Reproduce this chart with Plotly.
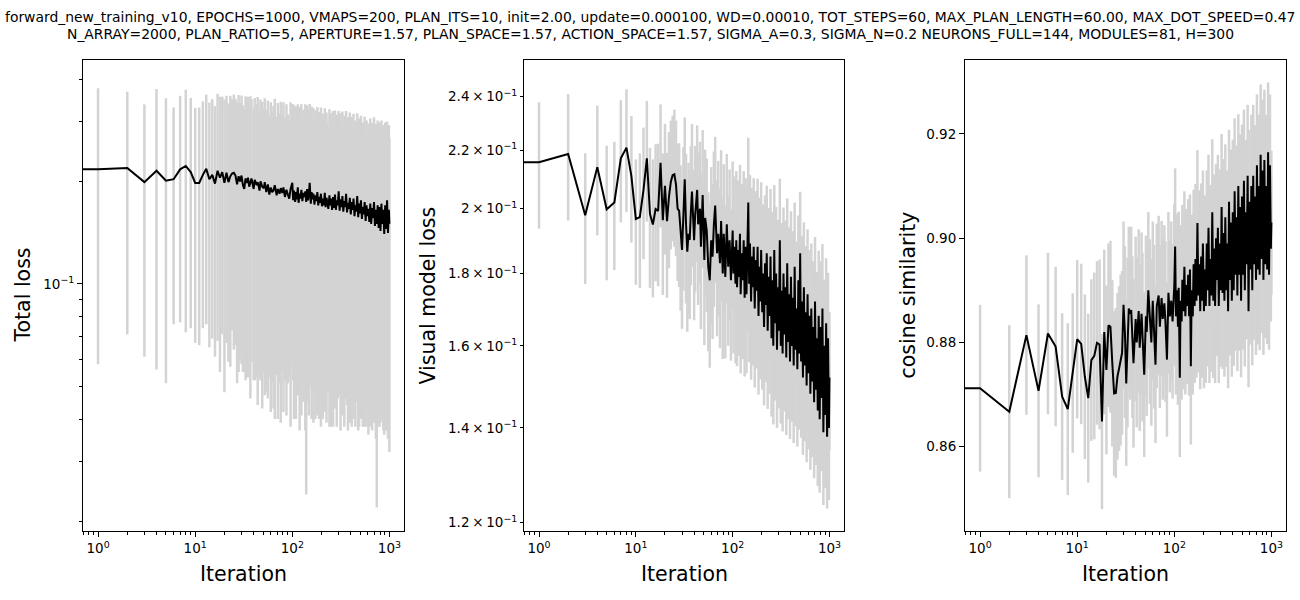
import plotly.graph_objects as go

# iteration index of each logged point (the run has 1000 epochs)
iterations = [
    0, 1, 2, 3, 4, 5, 6, 7, 8, 9,
    10, 11, 12, 13, 14, 15, 16, 17, 18, 19,
    20, 21, 22, 23, 24, 25, 26, 27, 28, 29,
    30, 31, 32, 33, 34, 35, 36, 37, 38, 40,
    41, 43, 44, 46, 47, 49, 51, 52, 54, 56,
    58, 60, 62, 64, 66, 69, 71, 74, 76, 79,
    81, 84, 87, 90, 93, 96, 100, 102, 104, 107,
    109, 111, 114, 116, 119, 121, 124, 127, 130, 133,
    136, 139, 142, 145, 148, 151, 155, 158, 162, 165,
    169, 173, 177, 181, 185, 189, 193, 197, 202, 206,
    211, 216, 220, 225, 230, 235, 241, 246, 252, 257,
    263, 269, 275, 281, 287, 294, 300, 307, 314, 321,
    328, 335, 343, 350, 358, 366, 374, 383, 391, 400,
    409, 418, 427, 437, 446, 456, 466, 477, 487, 498,
    509, 521, 532, 544, 556, 569, 581, 594, 608, 621,
    635, 649, 664, 678, 694, 709, 725, 741, 757, 774,
    792, 809, 827, 846, 865, 884, 904, 924, 945, 966,
    987, 999,
]

total_mean = [
    0.217, 0.217, 0.219, 0.199, 0.215, 0.201, 0.203, 0.217, 0.222, 0.213,
    0.198, 0.198, 0.209, 0.218, 0.203, 0.209, 0.197, 0.215, 0.205, 0.213,
    0.198, 0.212, 0.199, 0.207, 0.211, 0.212, 0.208, 0.196, 0.207, 0.200,
    0.208, 0.195, 0.190, 0.204, 0.198, 0.205, 0.193, 0.201, 0.204, 0.190,
    0.202, 0.195, 0.199, 0.188, 0.200, 0.193, 0.191, 0.199, 0.186, 0.196,
    0.183, 0.192, 0.186, 0.188, 0.195, 0.182, 0.190, 0.184, 0.191, 0.185,
    0.192, 0.180, 0.189, 0.183, 0.178, 0.190, 0.198, 0.176, 0.188, 0.174,
    0.186, 0.177, 0.192, 0.173, 0.184, 0.178, 0.189, 0.175, 0.185, 0.180,
    0.187, 0.174, 0.190, 0.176, 0.183, 0.198, 0.172, 0.186, 0.177, 0.184,
    0.171, 0.182, 0.175, 0.186, 0.170, 0.180, 0.173, 0.184, 0.169, 0.178,
    0.170, 0.185, 0.168, 0.179, 0.173, 0.166, 0.182, 0.170, 0.178, 0.165,
    0.180, 0.167, 0.183, 0.165, 0.176, 0.170, 0.187, 0.164, 0.177, 0.168,
    0.181, 0.163, 0.175, 0.168, 0.184, 0.162, 0.173, 0.166, 0.179, 0.160,
    0.174, 0.165, 0.178, 0.158, 0.170, 0.163, 0.181, 0.157, 0.172, 0.161,
    0.176, 0.155, 0.168, 0.160, 0.174, 0.153, 0.170, 0.158, 0.166, 0.152,
    0.172, 0.150, 0.167, 0.156, 0.174, 0.148, 0.165, 0.150, 0.170, 0.146,
    0.168, 0.143, 0.172, 0.150, 0.165, 0.140, 0.170, 0.145, 0.176, 0.141,
    0.165, 0.150,
]
total_std = [
    0.159, 0.159, 0.148, 0.138, 0.159, 0.150, 0.127, 0.140, 0.150, 0.139,
    0.131, 0.132, 0.135, 0.142, 0.138, 0.140, 0.136, 0.147, 0.150, 0.142,
    0.150, 0.145, 0.140, 0.150, 0.138, 0.148, 0.142, 0.145, 0.152, 0.140,
    0.150, 0.140, 0.135, 0.152, 0.145, 0.150, 0.140, 0.155, 0.145, 0.138,
    0.150, 0.142, 0.155, 0.135, 0.148, 0.150, 0.136, 0.152, 0.138, 0.150,
    0.130, 0.150, 0.135, 0.145, 0.155, 0.128, 0.150, 0.133, 0.152, 0.130,
    0.150, 0.128, 0.148, 0.132, 0.125, 0.152, 0.140, 0.124, 0.148, 0.122,
    0.146, 0.125, 0.145, 0.123, 0.147, 0.128, 0.148, 0.125, 0.140, 0.132,
    0.150, 0.150, 0.145, 0.126, 0.142, 0.140, 0.122, 0.146, 0.128, 0.145,
    0.122, 0.142, 0.126, 0.145, 0.120, 0.140, 0.125, 0.146, 0.120, 0.138,
    0.122, 0.143, 0.120, 0.140, 0.125, 0.118, 0.144, 0.124, 0.140, 0.118,
    0.142, 0.120, 0.140, 0.118, 0.138, 0.124, 0.135, 0.117, 0.140, 0.122,
    0.140, 0.116, 0.137, 0.122, 0.138, 0.118, 0.136, 0.120, 0.140, 0.115,
    0.136, 0.120, 0.138, 0.114, 0.132, 0.118, 0.136, 0.120, 0.134, 0.116,
    0.136, 0.112, 0.130, 0.116, 0.136, 0.110, 0.132, 0.114, 0.130, 0.110,
    0.134, 0.110, 0.130, 0.114, 0.135, 0.108, 0.130, 0.128, 0.132, 0.106,
    0.130, 0.104, 0.130, 0.110, 0.128, 0.104, 0.128, 0.108, 0.124, 0.106,
    0.128, 0.118,
]

visual_mean = [
    0.2157, 0.2157, 0.2186, 0.1979, 0.2140, 0.1998, 0.2020, 0.2171, 0.2209, 0.2109,
    0.1967, 0.1973, 0.2062, 0.2171, 0.1983, 0.1949, 0.1999, 0.1993, 0.2155, 0.1963,
    0.2076, 0.1960, 0.2040, 0.2090, 0.2112, 0.2115, 0.2080, 0.2000, 0.1993, 0.1920,
    0.1870, 0.1980, 0.2098, 0.1950, 0.1865, 0.1920, 0.1901, 0.1990, 0.2057, 0.1900,
    0.1980, 0.2062, 0.1950, 0.2000, 0.1880, 0.2045, 0.1840, 0.1970, 0.1930, 0.1820,
    0.1780, 0.1900, 0.1850, 0.1950, 0.2010, 0.1860, 0.1920, 0.1830, 0.1960, 0.1800,
    0.1920, 0.1790, 0.1950, 0.1820, 0.1900, 0.1780, 0.1930, 0.1800, 0.1880, 0.1770,
    0.1900, 0.1760, 0.1870, 0.1790, 0.1920, 0.1740, 0.1860, 0.1780, 0.1900, 0.1730,
    0.1880, 0.1740, 0.1860, 0.2020, 0.1770, 0.1890, 0.1720, 0.1850, 0.1760, 0.1880,
    0.1700, 0.1840, 0.1750, 0.1880, 0.1680, 0.1820, 0.1720, 0.1870, 0.1690, 0.1800,
    0.1650, 0.1830, 0.1710, 0.1860, 0.1640, 0.1790, 0.1680, 0.1850, 0.1620, 0.1780,
    0.1600, 0.1870, 0.1660, 0.1800, 0.1590, 0.1760, 0.1640, 0.1900, 0.1600, 0.1750,
    0.1580, 0.1800, 0.1630, 0.1760, 0.1570, 0.1830, 0.1610, 0.1740, 0.1560, 0.1790,
    0.1600, 0.1730, 0.1550, 0.1820, 0.1590, 0.1700, 0.1540, 0.1780, 0.1580, 0.1860,
    0.1560, 0.1720, 0.1520, 0.1760, 0.1550, 0.1690, 0.1500, 0.1740, 0.1530, 0.1680,
    0.1480, 0.1700, 0.1510, 0.1650, 0.1460, 0.1720, 0.1490, 0.1620, 0.1440, 0.1680,
    0.1420, 0.1650, 0.1470, 0.1700, 0.1390, 0.1600, 0.1430, 0.1660, 0.1380, 0.1620,
    0.1400, 0.1520,
]
visual_std = [
    0.0221, 0.0221, 0.0224, 0.0210, 0.0225, 0.0218, 0.0210, 0.0215, 0.0220, 0.0216,
    0.0200, 0.0215, 0.0220, 0.0212, 0.0225, 0.0218, 0.0222, 0.0230, 0.0215, 0.0225,
    0.0220, 0.0230, 0.0225, 0.0218, 0.0215, 0.0235, 0.0228, 0.0222, 0.0232, 0.0226,
    0.0225, 0.0230, 0.0222, 0.0236, 0.0228, 0.0235, 0.0230, 0.0224, 0.0238, 0.0232,
    0.0235, 0.0228, 0.0240, 0.0230, 0.0236, 0.0228, 0.0238, 0.0232, 0.0240, 0.0234,
    0.0236, 0.0240, 0.0232, 0.0245, 0.0238, 0.0235, 0.0242, 0.0236, 0.0240, 0.0234,
    0.0230, 0.0222, 0.0236, 0.0220, 0.0232, 0.0218, 0.0230, 0.0220, 0.0228, 0.0215,
    0.0226, 0.0212, 0.0224, 0.0215, 0.0228, 0.0210, 0.0222, 0.0214, 0.0226, 0.0208,
    0.0222, 0.0210, 0.0220, 0.0225, 0.0212, 0.0222, 0.0206, 0.0220, 0.0210, 0.0222,
    0.0205, 0.0218, 0.0208, 0.0220, 0.0202, 0.0216, 0.0205, 0.0218, 0.0200, 0.0214,
    0.0198, 0.0214, 0.0202, 0.0216, 0.0196, 0.0212, 0.0200, 0.0215, 0.0194, 0.0210,
    0.0192, 0.0208, 0.0196, 0.0206, 0.0190, 0.0204, 0.0195, 0.0200, 0.0190, 0.0204,
    0.0188, 0.0204, 0.0192, 0.0202, 0.0186, 0.0204, 0.0190, 0.0200, 0.0185, 0.0202,
    0.0186, 0.0198, 0.0184, 0.0200, 0.0186, 0.0196, 0.0182, 0.0198, 0.0184, 0.0196,
    0.0182, 0.0194, 0.0180, 0.0196, 0.0180, 0.0192, 0.0176, 0.0194, 0.0178, 0.0190,
    0.0172, 0.0190, 0.0175, 0.0186, 0.0170, 0.0190, 0.0172, 0.0184, 0.0166, 0.0188,
    0.0160, 0.0186, 0.0165, 0.0188, 0.0155, 0.0182, 0.0160, 0.0185, 0.0152, 0.0182,
    0.0155, 0.0170,
]

cos_mean = [
    0.8712, 0.8712, 0.8667, 0.8814, 0.8707, 0.8817, 0.8792, 0.8696, 0.8672, 0.8741,
    0.8806, 0.8797, 0.8734, 0.8693, 0.8766, 0.8774, 0.8799, 0.8796, 0.8648, 0.8820,
    0.8747, 0.8833, 0.8830, 0.8760, 0.8702, 0.8703, 0.8735, 0.8750, 0.8766, 0.8780,
    0.8872, 0.8820, 0.8721, 0.8800, 0.8865, 0.8855, 0.8862, 0.8810, 0.8760, 0.8845,
    0.8800, 0.8860, 0.8790, 0.8855, 0.8810, 0.8738, 0.8850, 0.8820, 0.8900, 0.8840,
    0.8800, 0.8880, 0.8830, 0.8757, 0.8870, 0.8890, 0.8830, 0.8885, 0.8845, 0.8875,
    0.8840, 0.8767, 0.8895, 0.8850, 0.8880, 0.8840, 0.8910, 0.8984, 0.8850, 0.8900,
    0.8830, 0.8905, 0.8732, 0.8880, 0.8840, 0.8920, 0.8860, 0.8945, 0.8850, 0.8910,
    0.8870, 0.8930, 0.8850, 0.8940, 0.8754, 0.8900, 0.8850, 0.8950, 0.8870, 0.8960,
    0.8880, 0.9029, 0.8890, 0.8950, 0.8860, 0.8965, 0.8880, 0.8990, 0.8860, 0.8940,
    0.8870, 0.8990, 0.8900, 0.9020, 0.8870, 0.8960, 0.8890, 0.9050, 0.8880, 0.8980,
    0.8870, 0.9000, 0.8920, 0.9020, 0.8870, 0.8990, 0.8900, 0.9060, 0.8895, 0.9010,
    0.8880, 0.9040, 0.8900, 0.8990, 0.8860, 0.9070, 0.8920, 0.9030, 0.8880, 0.9050,
    0.8900, 0.9090, 0.8930, 0.9040, 0.8890, 0.9100, 0.8930, 0.9060, 0.8880, 0.9080,
    0.8930, 0.9110, 0.8900, 0.9050, 0.8950, 0.9120, 0.8860, 0.9070, 0.8940, 0.9100,
    0.8900, 0.9120, 0.8950, 0.9080, 0.8920, 0.9140, 0.8940, 0.9100, 0.8930, 0.9160,
    0.8960, 0.9130, 0.8920, 0.9150, 0.8950, 0.9100, 0.8940, 0.9165, 0.8930, 0.9140,
    0.8980, 0.9030,
]
cos_std = [
    0.0160, 0.0160, 0.0166, 0.0153, 0.0166, 0.0155, 0.0153, 0.0160, 0.0165, 0.0153,
    0.0152, 0.0154, 0.0158, 0.0162, 0.0155, 0.0160, 0.0157, 0.0163, 0.0168, 0.0158,
    0.0162, 0.0157, 0.0165, 0.0160, 0.0158, 0.0163, 0.0160, 0.0158, 0.0164, 0.0157,
    0.0160, 0.0165, 0.0158, 0.0163, 0.0157, 0.0165, 0.0160, 0.0155, 0.0162, 0.0158,
    0.0163, 0.0157, 0.0160, 0.0156, 0.0162, 0.0158, 0.0155, 0.0161, 0.0150, 0.0158,
    0.0160, 0.0152, 0.0157, 0.0150, 0.0158, 0.0153, 0.0156, 0.0148, 0.0155, 0.0150,
    0.0154, 0.0148, 0.0155, 0.0146, 0.0152, 0.0148, 0.0155, 0.0150, 0.0150, 0.0147,
    0.0150, 0.0146, 0.0152, 0.0145, 0.0150, 0.0144, 0.0150, 0.0145, 0.0150, 0.0146,
    0.0150, 0.0145, 0.0152, 0.0144, 0.0150, 0.0145, 0.0150, 0.0143, 0.0148, 0.0144,
    0.0148, 0.0140, 0.0148, 0.0142, 0.0150, 0.0140, 0.0148, 0.0140, 0.0148, 0.0142,
    0.0148, 0.0140, 0.0146, 0.0140, 0.0148, 0.0142, 0.0147, 0.0140, 0.0148, 0.0142,
    0.0148, 0.0142, 0.0146, 0.0140, 0.0148, 0.0142, 0.0147, 0.0140, 0.0146, 0.0142,
    0.0146, 0.0140, 0.0147, 0.0140, 0.0148, 0.0138, 0.0145, 0.0140, 0.0146, 0.0139,
    0.0145, 0.0140, 0.0146, 0.0138, 0.0145, 0.0138, 0.0146, 0.0139, 0.0147, 0.0138,
    0.0144, 0.0137, 0.0146, 0.0138, 0.0144, 0.0136, 0.0146, 0.0138, 0.0144, 0.0137,
    0.0144, 0.0136, 0.0145, 0.0137, 0.0144, 0.0136, 0.0144, 0.0137, 0.0145, 0.0135,
    0.0142, 0.0136, 0.0144, 0.0135, 0.0142, 0.0137, 0.0143, 0.0134, 0.0144, 0.0136,
    0.0140, 0.0138,
]

title_lines = [
    "forward_new_training_v10, EPOCHS=1000, VMAPS=200, PLAN_ITS=10, init=2.00, "
    "update=0.000100, WD=0.00010, TOT_STEPS=60, MAX_PLAN_LENGTH=60.00, MAX_DOT_SPEED=0.47",
    "N_ARRAY=2000, PLAN_RATIO=5, APERTURE=1.57, PLAN_SPACE=1.57, ACTION_SPACE=1.57, "
    "SIGMA_A=0.3, SIGMA_N=0.2 NEURONS_FULL=144, MODULES=81, H=300",
]
y_titles = ["Total loss", "Visual model loss", "cosine similarity"]
x_title = "Iteration"

x_tickvals = [1, 10, 100, 1000]
x_ticktext = ["10<sup>0</sup>", "10<sup>1</sup>", "10<sup>2</sup>", "10<sup>3</sup>"]
total_tickvals = [0.1]
total_ticktext = ["10<sup>\u22121</sup>"]
visual_tickvals = [0.12, 0.14, 0.16, 0.18, 0.20, 0.22, 0.24]
visual_ticktext = ["1.2", "1.4", "1.6", "1.8", "2", "2.2", "2.4"]
cos_tickvals = [0.86, 0.88, 0.90, 0.92]

FONT = "DejaVu Sans"
W, H = 1300, 600
GREY = "#d3d3d3"

# matplotlib clips the epoch-0 point on a log axis to the far left
x_plot = [it if it > 0 else 0.5 for it in iterations]

# pixel boxes of the three axes (left, right), shared top/bottom
boxes = [(83, 404), (524, 844), (965, 1286)]
top_px, bottom_px = 60, 531
y_dom = [1 - bottom_px / H, 1 - top_px / H]

log_minor = [m * 10 ** d for d in range(-2, 4) for m in range(2, 10)]

panels = [
    (total_mean, total_std),
    (visual_mean, visual_std),
    (cos_mean, cos_std),
]

fig = go.Figure()
for i, (mean, std) in enumerate(panels):
    ax = "" if i == 0 else str(i + 1)
    fig.add_trace(go.Scatter(
        x=x_plot, y=mean, mode="markers",
        marker=dict(size=1, color="rgba(0,0,0,0)"),
        error_y=dict(type="data", array=std, visible=True,
                     color=GREY, thickness=2.5, width=0),
        xaxis="x" + ax, yaxis="y" + ax, showlegend=False, hoverinfo="skip",
    ))
    fig.add_trace(go.Scatter(
        x=x_plot, y=mean, mode="lines",
        line=dict(color="black", width=2),
        xaxis="x" + ax, yaxis="y" + ax, showlegend=False,
    ))

tick_font = dict(family=FONT, size=13.5, color="black")
common = dict(showline=True, linecolor="black", linewidth=1, mirror=True,
              showgrid=False, zeroline=False, ticks="outside", ticklen=5,
              tickwidth=1, tickcolor="black", tickfont=tick_font)

layout = dict(
    width=W, height=H, margin=dict(l=0, r=0, t=0, b=0),
    paper_bgcolor="white", plot_bgcolor="white",
    font=dict(family=FONT, color="black"),
)

for i, (x0, x1) in enumerate(boxes):
    ax = "" if i == 0 else str(i + 1)
    layout["xaxis" + ax] = dict(
        common, type="log", range=[-0.155, 3.15],
        domain=[x0 / W, x1 / W], anchor="y" + ax,
        tickmode="array", tickvals=x_tickvals, ticktext=x_ticktext,
        minor=dict(tickmode="array", tickvals=log_minor, ticks="outside",
                   ticklen=3, tickwidth=1, tickcolor="black"),
    )

layout["yaxis"] = dict(
    common, type="log", range=[-1.727, -0.342], domain=y_dom, anchor="x",
    tickmode="array", tickvals=total_tickvals, ticktext=total_ticktext,
    minor=dict(tickmode="array", tickvals=log_minor, ticks="outside",
               ticklen=3, tickwidth=1, tickcolor="black"),
)
layout["yaxis2"] = dict(
    common, type="log", range=[-0.9267, -0.5939], domain=y_dom, anchor="x2",
    tickmode="array", tickvals=visual_tickvals, ticklen=3,
    ticktext=[t + "\u2009\u00d7\u200910<sup>\u22121</sup>" for t in visual_ticktext],
)
layout["yaxis3"] = dict(
    common, range=[0.8438, 0.9342], domain=y_dom, anchor="x3",
    tickmode="array", tickvals=cos_tickvals, tickformat=".2f",
)

annotations = []
for k, line in enumerate(title_lines):
    annotations.append(dict(
        text=line, x=0.5, y=1 - (17 + 17 * k) / H, xref="paper", yref="paper",
        xanchor="center", yanchor="middle", showarrow=False,
        font=dict(family=FONT, size=13.9, color="black"),
    ))
y_title_x = [23, 428, 908]
for (x0, x1), name, tx in zip(boxes, y_titles, y_title_x):
    annotations.append(dict(
        text=name, x=tx / W, y=1 - (top_px + bottom_px) / 2 / H,
        xref="paper", yref="paper", textangle=-90,
        xanchor="center", yanchor="middle", showarrow=False,
        font=dict(family=FONT, size=20.5, color="black"),
    ))
    annotations.append(dict(
        text=x_title, x=(x0 + x1) / 2 / W, y=1 - 574 / H,
        xref="paper", yref="paper", xanchor="center", yanchor="middle",
        showarrow=False, font=dict(family=FONT, size=20.5, color="black"),
    ))
layout["annotations"] = annotations

fig.update_layout(layout)
# the page's default body margin would push the 1300x600 figure off-screen
fig.write_html("out.html", config={"displayModeBar": False},
               post_script="document.body.style.margin = '0';")
